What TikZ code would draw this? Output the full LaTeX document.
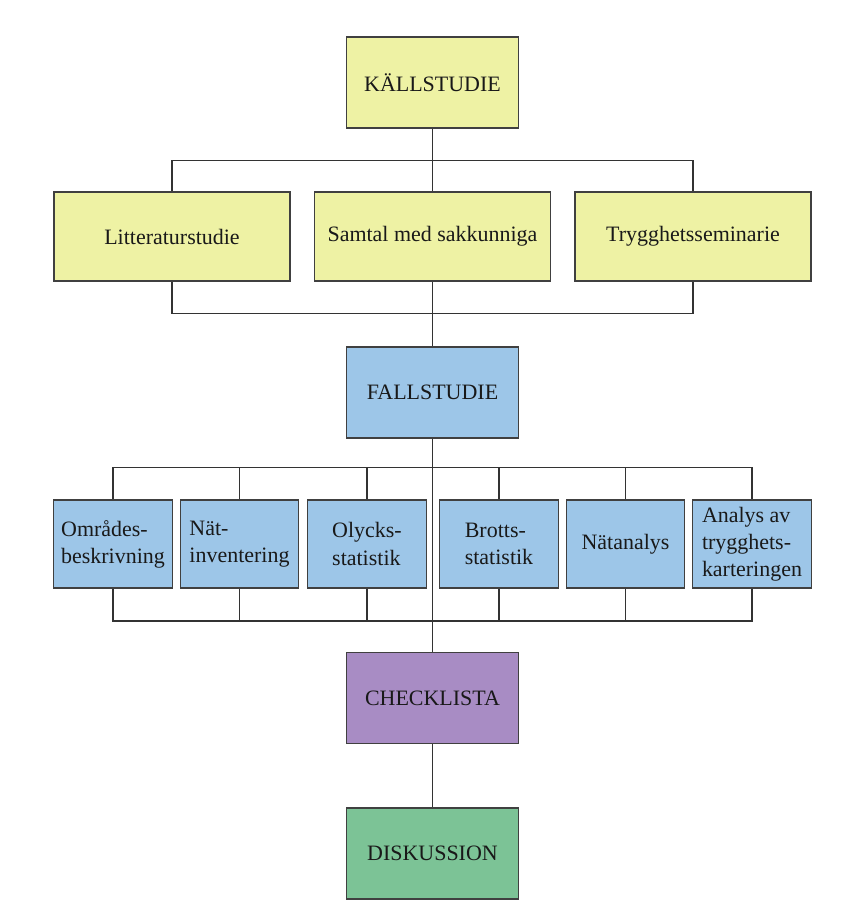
\documentclass[tikz,border=0pt]{standalone}
\usepackage{fontspec}
\setmainfont{Liberation Serif}
\usepackage{xcolor}
\usepackage{tikz}

\definecolor{srcyel}{HTML}{EEF2A4}
\definecolor{partblue}{HTML}{9DC6E8}
\definecolor{chkpurple}{HTML}{A88CC4}
\definecolor{dskgreen}{HTML}{7CC396}

\begin{document}
\begin{tikzpicture}[
  block/.style={rectangle, draw=black!75, line width=0.7pt, text=black!90,
    font=\fontsize{12.5}{15.4}\selectfont},
  main/.style={block, minimum width=3.44cm, minimum height=1.82cm},
  src/.style={block, fill=srcyel, minimum width=4.72cm, minimum height=1.78cm},
  part/.style={block, fill=partblue, align=left, inner sep=1pt,
    minimum width=2.37cm, minimum height=1.76cm},
  link/.style={draw=black!80, line width=1pt}
]
  \useasboundingbox (0,0) rectangle (17,-18.14);

  \node[main, fill=srcyel] (kall) at (8.65,-1.65) {KÄLLSTUDIE};

  \node[src] (lit)    at (3.44,-4.73)  {Litteraturstudie};
  \node[src] (samtal) at (8.65,-4.73)  {Samtal med sakkunniga};
  \node[src] (trygg)  at (13.86,-4.73) {Trygghetsseminarie};

  \node[main, fill=partblue] (fall) at (8.65,-7.85) {FALLSTUDIE};

  \node[part] (omr)    at (2.26,-10.88)  {Områdes-\\beskrivning};
  \node[part] (nat)    at (4.79,-10.88)  {Nät-\\inventering};
  \node[part] (olyck)  at (7.34,-10.88)  {Olycks-\\statistik};
  \node[part] (brott)  at (9.98,-10.88)  {Brotts-\\statistik};
  \node[part] (natan)  at (12.51,-10.88) {Nätanalys};
  \node[part] (analys) at (15.04,-10.88) {Analys av\\trygghets-\\karteringen};

  \node[main, fill=chkpurple] (check) at (8.65,-13.96) {CHECKLISTA};
  \node[main, fill=dskgreen]  (disk)  at (8.65,-17.07) {DISKUSSION};

  \draw[link] (kall) -- (samtal);
  \draw[link] (lit.north) -- ++(0,0.62) -| (trygg.north);
  \draw[link] (lit.south) -- ++(0,-0.64) -| (trygg.south);
  \draw[link] (samtal) -- (fall);

  \draw[link] (omr.north) -- ++(0,0.64) -| (analys.north);
  \draw[link] (omr.south) -- ++(0,-0.64) -| (analys.south);
  \foreach \n in {nat, olyck, brott, natan} {
    \draw[link] (\n.north) -- ++(0,0.64);
    \draw[link] (\n.south) -- ++(0,-0.64);
  }
  \draw[link] (fall) -- (check);
  \draw[link] (check) -- (disk);
\end{tikzpicture}
\end{document}
